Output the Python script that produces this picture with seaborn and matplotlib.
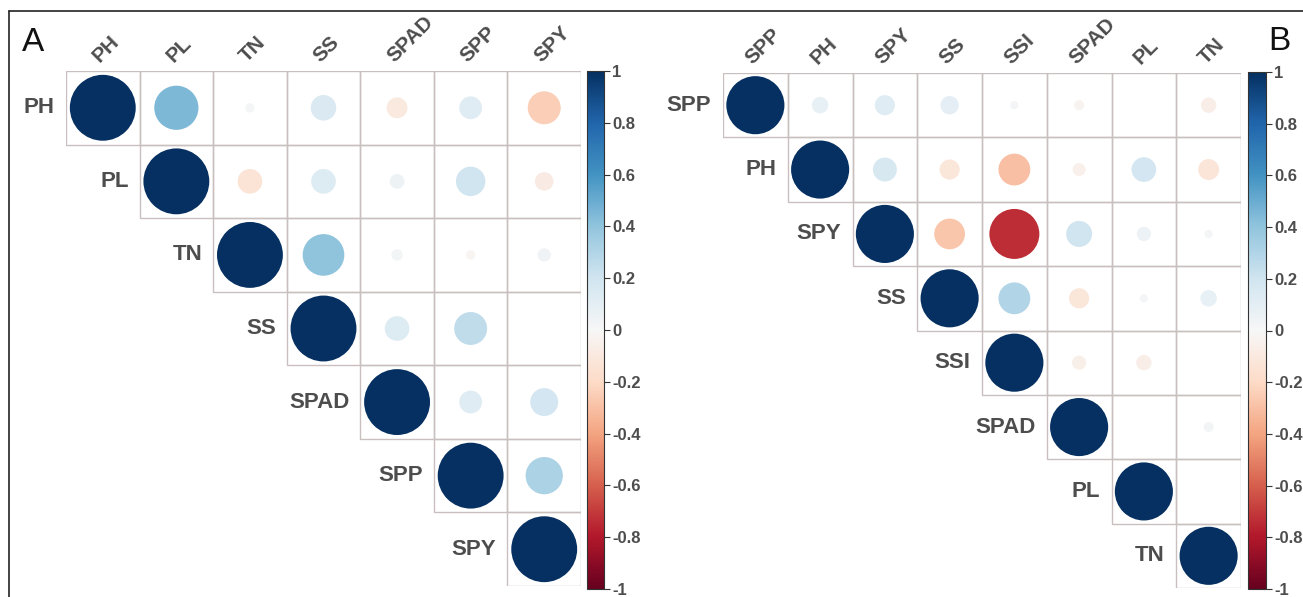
import numpy as np
import pandas as pd
import matplotlib
matplotlib.use("Agg")
import matplotlib.pyplot as plt
import seaborn as sns
from matplotlib.patches import Rectangle
from matplotlib.colors import Normalize
from matplotlib.cm import ScalarMappable

sns.set_style("white")
plt.rcParams["font.family"] = ["Liberation Sans", "DejaVu Sans"]

# Panel A: trait order and upper-triangle correlations (row by row, diagonal first)
vars_a = ["PH", "PL", "TN", "SS", "SPAD", "SPP", "SPY"]
corr_a_ph = [1.00, 0.45, 0.02, 0.15, -0.10, 0.12, -0.25]
corr_a_pl = [1.00, -0.14, 0.14, 0.05, 0.20, -0.08]
corr_a_tn = [1.00, 0.40, 0.03, -0.02, 0.04]
corr_a_ss = [1.00, 0.14, 0.25, 0.00]
corr_a_spad = [1.00, 0.12, 0.18]
corr_a_spp = [1.00, 0.32]
corr_a_spy = [1.00]
rows_a = [corr_a_ph, corr_a_pl, corr_a_tn, corr_a_ss, corr_a_spad, corr_a_spp, corr_a_spy]

# Panel B: trait order and upper-triangle correlations
vars_b = ["SPP", "PH", "SPY", "SS", "SSI", "SPAD", "PL", "TN"]
corr_b_spp = [1.00, 0.08, 0.12, 0.10, 0.02, -0.03, 0.00, -0.07]
corr_b_ph = [1.00, 0.17, -0.12, -0.30, -0.05, 0.18, -0.13]
corr_b_spy = [1.00, -0.28, -0.74, 0.20, 0.06, 0.02]
corr_b_ss = [1.00, 0.30, -0.12, 0.02, 0.08]
corr_b_ssi = [1.00, -0.06, -0.07, 0.00]
corr_b_spad = [1.00, 0.00, 0.03]
corr_b_pl = [1.00, 0.00]
corr_b_tn = [1.00]
rows_b = [corr_b_spp, corr_b_ph, corr_b_spy, corr_b_ss, corr_b_ssi, corr_b_spad, corr_b_pl, corr_b_tn]

cbar_ticks = [1, 0.8, 0.6, 0.4, 0.2, 0, -0.2, -0.4, -0.6, -0.8, -1]

GRID = "#c9bfbf"
TXT = "#4d4d4d"
W, H = 1303, 597


def long_form(rows):
    recs = []
    for i, vals in enumerate(rows):
        for k, v in enumerate(vals):
            recs.append({"row": i, "col": i + k, "r": v, "mag": abs(v)})
    return pd.DataFrame(recs)


def fig_rect(x0, y0, x1, y1):
    return [x0 / W, 1 - y1 / H, (x1 - x0) / W, (y1 - y0) / H]


def draw_panel(ax, cax, names, rows, smax, label_gap):
    n = len(names)
    df = long_form(rows)
    for i in range(n):
        for j in range(i, n):
            ax.add_patch(Rectangle((j - 0.5, i - 0.5), 1, 1, fill=False,
                                   edgecolor=GRID, lw=1.0, zorder=1))
    sns.scatterplot(data=df, x="col", y="row", hue="r", size="mag",
                    palette="RdBu", hue_norm=(-1, 1),
                    sizes=(0, smax), size_norm=(0, 1),
                    linewidth=0, legend=False, ax=ax, zorder=2)
    ax.set_xlim(-0.5, n - 0.5)
    ax.set_ylim(n - 0.5, -0.5)
    ax.xaxis.tick_top()
    ax.set_xticks(range(n))
    ax.set_xticklabels(names, rotation=45, ha="left", va="bottom",
                       rotation_mode="anchor", fontsize=15,
                       fontweight="bold", color=TXT)
    ax.tick_params(axis="x", length=0, pad=4)
    ax.set_yticks([])
    ax.set_xlabel("")
    ax.set_ylabel("")
    for s in ax.spines.values():
        s.set_visible(False)
    for i, name in enumerate(names):
        ax.text(i - 0.5 - label_gap, i, name, ha="right", va="center",
                fontsize=16, fontweight="bold", color=TXT)

    sm = ScalarMappable(norm=Normalize(-1, 1), cmap="RdBu")
    cb = plt.colorbar(sm, cax=cax, ticks=cbar_ticks)
    cb.ax.set_yticklabels([f"{round(v, 1):g}" for v in cbar_ticks],
                          fontweight="bold")
    cb.outline.set_linewidth(0.8)
    cb.outline.set_edgecolor("#333333")
    cb.ax.tick_params(length=4, width=0.8, pad=2, labelsize=12,
                      labelcolor=TXT, color="#333333")


fig = plt.figure(figsize=(W / 100, H / 100), dpi=100)

ax_a = fig.add_axes(fig_rect(66, 71, 581, 586))
cax_a = fig.add_axes(fig_rect(587, 71, 604, 589))
draw_panel(ax_a, cax_a, vars_a, rows_a, smax=2250, label_gap=0.15)

ax_b = fig.add_axes(fig_rect(723, 73, 1241, 588))
cax_b = fig.add_axes(fig_rect(1248, 72, 1266, 589))
draw_panel(ax_b, cax_b, vars_b, rows_b, smax=1750, label_gap=0.18)

fig.text(22 / W, 1 - 51 / H, "A", fontsize=24, color="#111111", va="baseline")
fig.text(1268 / W, 1 - 50 / H, "B", fontsize=24, color="#111111", va="baseline")

# Thin frame along the top and left edges
fig.add_artist(plt.Line2D([8.5 / W, 8.5 / W], [0, 1 - 10.5 / H],
                          transform=fig.transFigure, color="#222222", lw=1.2))
fig.add_artist(plt.Line2D([8.5 / W, 1], [1 - 10.5 / H, 1 - 10.5 / H],
                          transform=fig.transFigure, color="#222222", lw=1.2))

fig.savefig("out.png", dpi=100, facecolor="white")
